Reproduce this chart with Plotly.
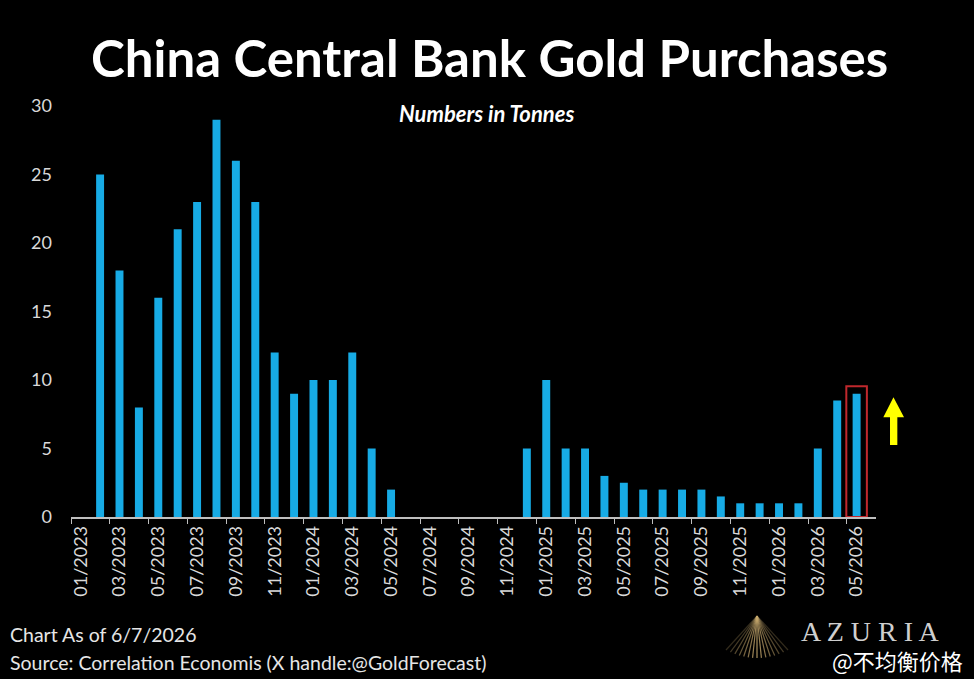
import plotly.graph_objects as go

months = [
    "01/2023", "02/2023", "03/2023", "04/2023", "05/2023", "06/2023", "07/2023", "08/2023",
    "09/2023", "10/2023", "11/2023", "12/2023", "01/2024", "02/2024", "03/2024", "04/2024",
    "05/2024", "06/2024", "07/2024", "08/2024", "09/2024", "10/2024", "11/2024", "12/2024",
    "01/2025", "02/2025", "03/2025", "04/2025", "05/2025", "06/2025", "07/2025", "08/2025",
    "09/2025", "10/2025", "11/2025", "12/2025", "01/2026", "02/2026", "03/2026", "04/2026",
    "05/2026",
]
tonnes = [
    None, 25, 18, 8, 16, 21, 23, 29,
    26, 23, 12, 9, 10, 10, 12, 5,
    2, None, None, None, None, None, None, 5,
    10, 5, 5, 3, 2.5, 2, 2, 2,
    2, 1.5, 1, 1, 1, 1, 5, 8.5,
    9,
]
y_ticks = [0, 5, 10, 15, 20, 25, 30]
highlight_month = "05/2026"

FONT = "Lato"
BAR = "#17ABE5"
LIGHT = "#D9D9D9"

fig = go.Figure()
fig.add_trace(go.Bar(x=months, y=tonnes, marker=dict(color=BAR, line=dict(width=0)),
                     hoverinfo="x+y"))

# plot area in pixels: x 71..876 (axis extended half a category), y 106..517
L, R, T, B = 71, 98, 106, 162
W, H = 974, 679
PW, PH = W - L - R, H - T - B


def px(xp):
    return (xp - L) / PW


def py(yp):
    return (H - B - yp) / PH


shapes = []
# red highlight box around last bar
idx = months.index(highlight_month)
shapes.append(dict(type="rect", xref="x", yref="y", x0=idx - 0.53, x1=idx + 0.53,
                   y0=0, y1=tonnes[idx] + 0.55, layer="above",
                   line=dict(color="#C0282D", width=2), fillcolor="rgba(0,0,0,0)"))

# yellow up arrow
arrow = [(890, 445), (897.3, 445), (897.3, 417.3), (904, 417.3), (893.5, 397.3),
         (883.3, 417.3), (890, 417.3)]
path = "M " + " L ".join(f"{px(a):.4f},{py(b):.4f}" for a, b in arrow) + " Z"
shapes.append(dict(type="path", xref="paper", yref="paper", path=path,
                   fillcolor="#FFFF00", line=dict(width=0)))

# decorative golden fan of the logo
apex = (757, 616)
for i in range(15):
    bx = 726 + i * (62 / 14)
    d = abs(i - 7) / 7
    op = 0.85 - 0.6 * d
    shapes.append(dict(type="line", xref="paper", yref="paper",
                       x0=px(apex[0]), y0=py(apex[1]), x1=px(bx), y1=py(658 - 8 * d * d),
                       line=dict(color=f"rgba(200,170,110,{op:.2f})", width=1.2)))

annotations = [
    dict(text="<b>China Central Bank Gold Purchases</b>", xref="paper", yref="paper",
         x=px(489), y=py(57), xanchor="center", yanchor="middle", showarrow=False,
         font=dict(family=FONT, size=51, color="#FFFFFF")),
    dict(text="<b><i>Numbers in Tonnes</i></b>", xref="paper", yref="paper",
         x=px(486), y=py(114), xanchor="center", yanchor="middle", showarrow=False,
         font=dict(family=FONT, size=22, color="#FFFFFF")),
    dict(text="Chart As of 6/7/2026", xref="paper", yref="paper",
         x=px(8), y=py(634), xanchor="left", yanchor="middle", showarrow=False,
         font=dict(family=FONT, size=19.5, color="#E6E6E6")),
    dict(text="Source: Correlation Economis (X handle:@GoldForecast)", xref="paper",
         yref="paper", x=px(8), y=py(662), xanchor="left", yanchor="middle",
         showarrow=False, font=dict(family=FONT, size=19.5, color="#E6E6E6")),
    dict(text="A Z U R I A", xref="paper", yref="paper",
         x=px(870), y=py(631), xanchor="center", yanchor="middle", showarrow=False,
         font=dict(family="Liberation Serif", size=28, color="#CFCFCF")),
    dict(text="@不均衡价格", xref="paper", yref="paper",
         x=px(965), y=py(660), xanchor="right", yanchor="middle", showarrow=False,
         font=dict(family="Noto Sans CJK SC", size=22, color="#FFFFFF")),
]

fig.update_layout(
    width=W, height=H,
    margin=dict(l=L, r=R, t=T, b=B, pad=0),
    paper_bgcolor="#000000", plot_bgcolor="#000000",
    bargap=0.59, showlegend=False,
    font=dict(family=FONT, color=LIGHT),
    shapes=shapes, annotations=annotations,
    xaxis=dict(type="category", categoryorder="array", categoryarray=months,
               tickmode="linear", tick0=0, dtick=2, tickson="boundaries",
               ticks="outside", ticklen=5, tickwidth=1.3, tickcolor="#BFBFBF",
               showline=True, linecolor="#BFBFBF", linewidth=1.5,
               showgrid=False, zeroline=False, tickangle=-90,
               tickfont=dict(family=FONT, size=18, color=LIGHT),
               range=[-0.5, len(months)]),
    yaxis=dict(range=[0, 30], tickvals=y_ticks, showgrid=False, zeroline=False,
               showline=False, ticks="", ticklabelstandoff=18,
               tickfont=dict(family=FONT, size=18, color=LIGHT)),
)

fig.write_html("out.html")
